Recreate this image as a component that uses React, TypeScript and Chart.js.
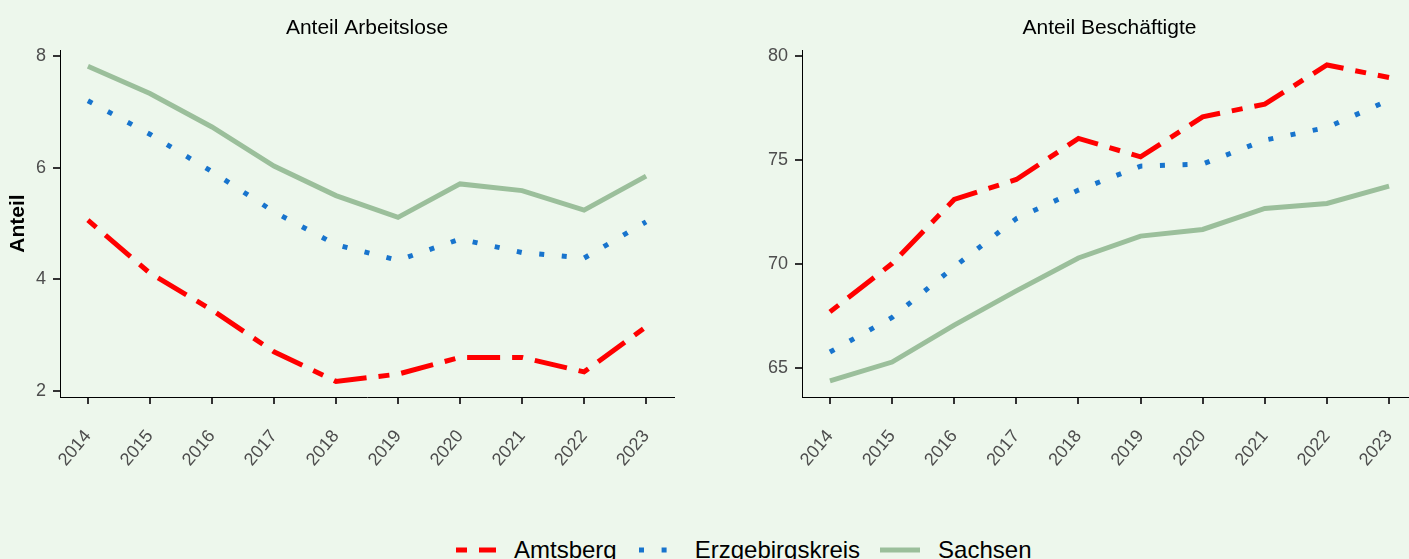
import React, { useEffect, useRef } from 'react';
import { Chart, registerables } from 'chart.js';

Chart.register(...registerables);

const years = [2014, 2015, 2016, 2017, 2018, 2019, 2020, 2021, 2022, 2023];

const arbAmtsberg = [5.06, 4.11, 3.45, 2.7, 2.17, 2.3, 2.6, 2.6, 2.34, 3.15];
const arbErzgebirgskreis = [7.2, 6.6, 5.93, 5.21, 4.62, 4.34, 4.72, 4.48, 4.38, 5.03];
const arbSachsen = [7.82, 7.33, 6.73, 6.03, 5.5, 5.11, 5.71, 5.59, 5.24, 5.85];

const besAmtsberg = [67.71, 70.03, 73.11, 74.07, 76.04, 75.16, 77.08, 77.69, 79.57, 78.97];
const besErzgebirgskreis = [65.78, 67.44, 69.87, 72.19, 73.56, 74.71, 74.81, 75.96, 76.57, 77.88];
const besSachsen = [64.39, 65.3, 67.07, 68.72, 70.3, 71.35, 71.67, 72.68, 72.92, 73.75];

const arbTicks = [2, 4, 6, 8];
const besTicks = [65, 70, 75, 80];

const seriesNames = ['Amtsberg', 'Erzgebirgskreis', 'Sachsen'];

const BG = '#EDF7EC';
const RED = '#FF0000';
const BLUE = '#1874CD';
const GREEN = '#9BBF9B';
const FONT = '"Liberation Sans", Arial, Helvetica, sans-serif';
const DASH = [11, 12, 33, 12];
const DOT = [5, 17.6];

function toXY(vals: number[]) {
  return years.map((y, i) => ({ x: y, y: vals[i] }));
}

function makeConfig(
  title: string,
  a: number[],
  e: number[],
  s: number[],
  yMin: number,
  yMax: number,
  yTicks: number[],
  yTitle: string | null,
  yWidth: number,
  padRight: number
): any {
  return {
    type: 'line',
    data: {
      datasets: [
        {
          label: seriesNames[0],
          data: toXY(a),
          borderColor: RED,
          borderWidth: 5,
          borderDash: DASH,
          borderCapStyle: 'butt',
          pointRadius: 0,
          tension: 0,
          fill: false,
          order: 2,
        },
        {
          label: seriesNames[1],
          data: toXY(e),
          borderColor: BLUE,
          borderWidth: 5,
          borderDash: DOT,
          borderCapStyle: 'butt',
          pointRadius: 0,
          tension: 0,
          fill: false,
          order: 1,
        },
        {
          label: seriesNames[2],
          data: toXY(s),
          borderColor: GREEN,
          borderWidth: 5,
          borderCapStyle: 'butt',
          pointRadius: 0,
          tension: 0,
          fill: false,
          order: 0,
        },
      ],
    },
    options: {
      animation: false,
      responsive: false,
      maintainAspectRatio: false,
      layout: { padding: { left: 0, right: padRight, top: 0, bottom: 0 } },
      plugins: {
        legend: { display: false },
        tooltip: { enabled: false },
        title: {
          display: true,
          text: title,
          fullSize: false,
          color: '#000000',
          font: { family: FONT, size: 21, weight: 'normal', lineHeight: 1.2 },
          padding: { top: 15.5, bottom: 9.3 },
        },
      },
      scales: {
        x: {
          type: 'linear',
          min: 2013.55,
          max: 2023.45,
          afterBuildTicks: (axis: any) => {
            axis.ticks = years.map((v) => ({ value: v }));
          },
          afterFit: (scale: any) => {
            scale.height = 103;
          },
          ticks: {
            autoSkip: false,
            minRotation: 50,
            maxRotation: 50,
            padding: 22,
            color: '#4D4D4D',
            font: { family: FONT, size: 18 },
            callback: (v: any) => String(v),
          },
          grid: {
            drawOnChartArea: false,
            drawTicks: true,
            tickLength: 7,
            color: '#333333',
            lineWidth: 2,
          },
          border: { display: true, color: '#000000', width: 1 },
        },
        y: {
          type: 'linear',
          min: yMin,
          max: yMax,
          afterBuildTicks: (axis: any) => {
            axis.ticks = yTicks.map((v) => ({ value: v }));
          },
          afterFit: (scale: any) => {
            scale.width = yWidth;
          },
          title: yTitle
            ? {
                display: true,
                text: yTitle,
                color: '#000000',
                font: { family: FONT, size: 21, weight: 'bold', lineHeight: 1.2 },
                padding: { top: 5.4, bottom: 0 },
              }
            : { display: false },
          ticks: {
            padding: 7,
            color: '#4D4D4D',
            font: { family: FONT, size: 18 },
            callback: (v: any) => String(v),
          },
          grid: {
            drawOnChartArea: false,
            drawTicks: true,
            tickLength: 7,
            color: '#333333',
            lineWidth: 2,
          },
          border: { display: true, color: '#000000', width: 1 },
        },
      },
    },
  };
}

function ChartCanvas(props: { config: any; width: number; height: number; left: number }) {
  const ref = useRef<HTMLCanvasElement | null>(null);
  useEffect(() => {
    if (!ref.current) return;
    const chart = new Chart(ref.current, props.config);
    return () => chart.destroy();
  }, []);
  return (
    <canvas
      ref={ref}
      width={props.width}
      height={props.height}
      style={{ position: 'absolute', left: props.left, top: 0, width: props.width, height: props.height }}
    />
  );
}

function LegendKey(props: { color: string; dash?: string; offset?: number }) {
  return (
    <svg width={40} height={10} style={{ display: 'block', flex: 'none' }}>
      <line
        x1={0}
        y1={5}
        x2={40}
        y2={5}
        stroke={props.color}
        strokeWidth={5}
        strokeDasharray={props.dash}
        strokeDashoffset={props.offset || 0}
      />
    </svg>
  );
}

export default function App() {
  const leftCfg = makeConfig('Anteil Arbeitslose', arbAmtsberg, arbErzgebirgskreis, arbSachsen, 1.89, 8.11, arbTicks, 'Anteil', 60, 26);
  const rightCfg = makeConfig('Anteil Beschäftigte', besAmtsberg, besErzgebirgskreis, besSachsen, 63.62, 80.29, besTicks, null, 62, 13);
  const colors = [RED, BLUE, GREEN];
  const dashes = [DASH.join(' '), DOT.join(' '), undefined];
  const offsets = [0, -2, 0];
  return (
    <div
      style={{
        position: 'fixed',
        left: 0,
        top: 0,
        width: 1409,
        height: 559,
        background: BG,
        overflow: 'hidden',
        fontFamily: FONT,
      }}
    >
      <ChartCanvas config={leftCfg} width={700} height={500} left={0} />
      <ChartCanvas config={rightCfg} width={690} height={500} left={740} />
      <div
        style={{
          position: 'absolute',
          left: 456,
          top: 534,
          height: 32,
          display: 'flex',
          alignItems: 'center',
          whiteSpace: 'nowrap',
        }}
      >
        {seriesNames.map((n, i) => (
          <div key={n} style={{ display: 'flex', alignItems: 'center', marginRight: i < 2 ? 20 : 0 }}>
            <LegendKey color={colors[i]} dash={dashes[i]} offset={offsets[i]} />
            <span style={{ fontSize: 24, color: '#000000', marginLeft: 18, lineHeight: '32px' }}>{n}</span>
          </div>
        ))}
      </div>
    </div>
  );
}
